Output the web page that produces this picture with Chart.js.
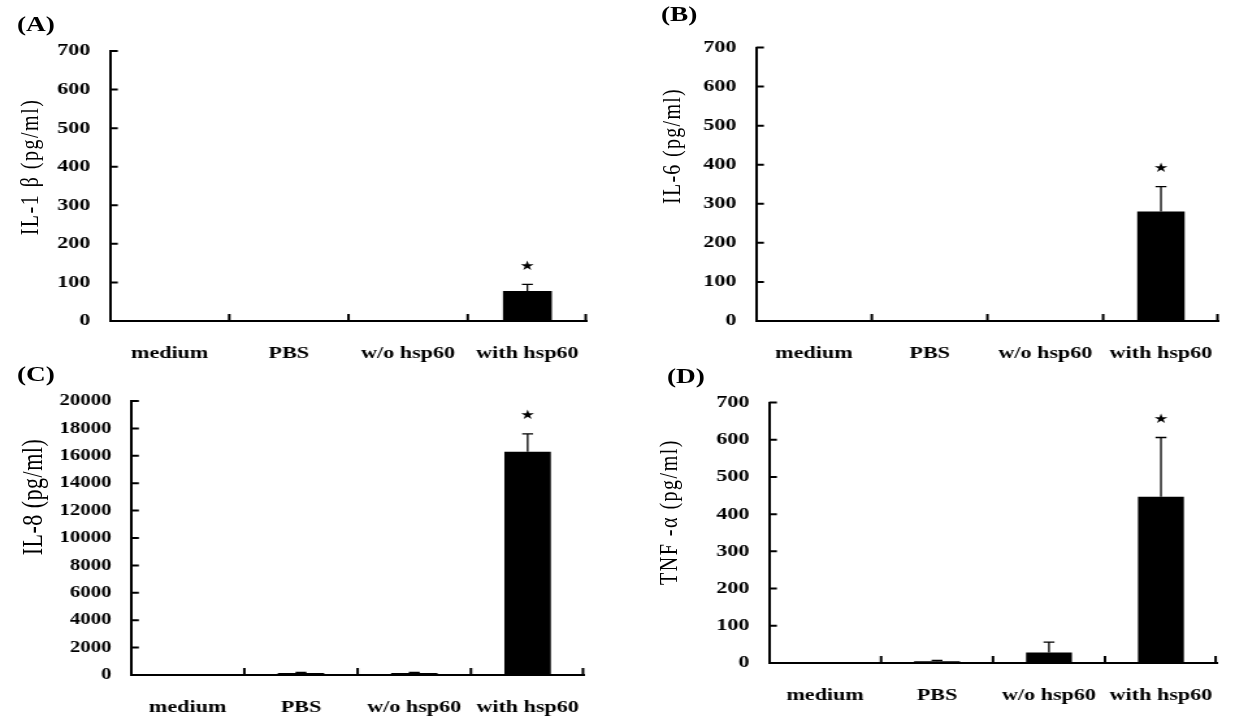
<!DOCTYPE html>
<html>
<head>
<meta charset="utf-8">
<script src="https://cdn.jsdelivr.net/npm/chart.js@4.4.1/dist/chart.umd.min.js"></script>
<style>
  html, body { margin: 0; padding: 0; background: #fff; }
  body { width: 1241px; height: 722px; position: relative; overflow: hidden; }
  #root { position: absolute; left: 0; top: 0; width: 955px; height: 722px; transform-origin: 0 0; font-family: "Liberation Serif", serif; color: #000; }
  canvas { position: absolute; }
  .tag { position: absolute; font-weight: bold; font-size: 21px; line-height: 20px; white-space: nowrap; }
  .ytitle { position: absolute; font-size: 20px; line-height: 20px; white-space: nowrap; transform: translate(-50%, -50%) rotate(-90deg); }
</style>
</head>
<body>
<div id="root"></div>
<script>
// the source figure is stretched horizontally, so everything is drawn narrow and scaled
const S = 1.3;

const categories = ['medium', 'PBS', 'w/o hsp60', 'with hsp60'];
const il1bMean = [0, 0, 0, 78];
const il1bErr = [0, 0, 0, 17];
const il6Mean = [0, 0, 0, 280];
const il6Err = [0, 0, 0, 64];
const il8Mean = [0, 150, 150, 16300];
const il8Err = [0, 40, 40, 1300];
const tnfMean = [0, 5, 28, 447];
const tnfErr = [0, 2, 28, 159];
const significant = [false, false, false, true];
const pgTicks = [0, 100, 200, 300, 400, 500, 600, 700];
const il8Ticks = [0, 2000, 4000, 6000, 8000, 10000, 12000, 14000, 16000, 18000, 20000];

const panels = [
  { tag: '(A)', tagPos: [17, 24], title: 'IL-1 β (pg/ml)', titlePos: [28, 167], titleSize: 20, spacing: 1.5,
    means: il1bMean, errs: il1bErr, ticks: pgTicks, tickSize: 17,
    box: [0, 0, 610, 370], axisX: 110, rightX: 590, topY: 51, zeroY: 321 },
  { tag: '(B)', tagPos: [661, 14], title: 'IL-6 (pg/ml)', titlePos: [671, 146], titleSize: 20, spacing: 1.3,
    means: il6Mean, errs: il6Err, ticks: pgTicks, tickSize: 17,
    box: [620, 0, 621, 370], axisX: 756, rightX: 1236, topY: 47.5, zeroY: 321 },
  { tag: '(C)', tagPos: [17, 374], title: 'IL-8 (pg/ml)', titlePos: [32, 497], titleSize: 22, spacing: 0.5,
    means: il8Mean, errs: il8Err, ticks: il8Ticks, tickSize: 16,
    box: [0, 360, 610, 362], axisX: 131, rightX: 592, topY: 401, zeroY: 675 },
  { tag: '(D)', tagPos: [667, 376], title: 'TNF -α (pg/ml)', titlePos: [668, 512], titleSize: 20, spacing: 1.5,
    means: tnfMean, errs: tnfErr, ticks: pgTicks, tickSize: 17,
    box: [620, 360, 621, 362], axisX: 769, rightX: 1236, topY: 402.5, zeroY: 663 }
];

const root = document.getElementById('root');
root.style.transform = 'scaleX(' + S + ')';

Chart.defaults.font.family = '"Liberation Serif", serif';
Chart.defaults.color = '#000';

// inward axis ticks, error bars and significance stars
const decorations = {
  id: 'decorations',
  afterDatasetsDraw(chart) {
    const { ctx, chartArea, scales: { x, y } } = chart;
    const ds = chart.data.datasets[0];
    const meta = chart.getDatasetMeta(0);
    ctx.save();
    ctx.strokeStyle = '#000';
    ctx.lineWidth = 2;
    ctx.beginPath();
    y.ticks.forEach(t => {
      const py = y.getPixelForValue(t.value);
      ctx.moveTo(chartArea.left, py);
      ctx.lineTo(chartArea.left + 6, py);
    });
    const n = chart.data.labels.length;
    for (let i = 1; i <= n; i++) {
      const px = i < n ? (x.getPixelForValue(i - 1) + x.getPixelForValue(i)) / 2 : chartArea.right - 1;
      ctx.moveTo(px, chartArea.bottom);
      ctx.lineTo(px, chartArea.bottom - 7);
    }
    ctx.stroke();

    ctx.lineWidth = 1.3;
    ctx.fillStyle = '#000';
    ctx.font = '13px "DejaVu Sans"';
    ctx.textAlign = 'center';
    ctx.textBaseline = 'middle';
    meta.data.forEach((bar, i) => {
      const err = ds.errors[i];
      if (err) {
        const top = y.getPixelForValue(ds.data[i] + err);
        ctx.beginPath();
        ctx.moveTo(bar.x, bar.y);
        ctx.lineTo(bar.x, top);
        ctx.moveTo(bar.x - 4.2, top);
        ctx.lineTo(bar.x + 4.2, top);
        ctx.stroke();
        if (ds.significant[i]) ctx.fillText('★', bar.x, top - 18);
      }
    });
    ctx.restore();
  }
};

panels.forEach(p => {
  const [bl, bt, bw, bh] = p.box;
  const canvas = document.createElement('canvas');
  canvas.width = Math.round(bw / S);
  canvas.height = bh;
  canvas.style.left = (bl / S) + 'px';
  canvas.style.top = bt + 'px';
  root.appendChild(canvas);

  const yWidth = (p.axisX - bl) / S;
  const xHeight = bt + bh - p.zeroY;
  const padRight = canvas.width - (p.rightX - bl) / S;

  new Chart(canvas, {
    type: 'bar',
    data: {
      labels: categories,
      datasets: [{
        data: p.means,
        errors: p.errs,
        significant: significant,
        backgroundColor: '#000',
        borderWidth: 0,
        categoryPercentage: 1,
        barPercentage: 0.41
      }]
    },
    options: {
      responsive: false,
      animation: false,
      layout: { padding: { top: p.topY - bt, right: padRight, left: 0, bottom: 0 } },
      plugins: { legend: { display: false }, tooltip: { enabled: false } },
      scales: {
        x: {
          grid: { display: false, drawTicks: false },
          border: { display: true, color: '#000', width: 2 },
          ticks: { padding: 22, maxRotation: 0, font: { size: 17, weight: 'bold' } },
          afterFit: s => { s.height = xHeight; }
        },
        y: {
          min: 0,
          max: p.ticks[p.ticks.length - 1],
          grid: { display: false, drawTicks: false },
          border: { display: true, color: '#000', width: 2 },
          ticks: { padding: 15, autoSkip: false, font: { size: p.tickSize, weight: 'bold' },
                   callback: v => String(v) },
          afterBuildTicks: s => { s.ticks = p.ticks.map(v => ({ value: v })); },
          afterFit: s => { s.width = yWidth; }
        }
      }
    },
    plugins: [decorations]
  });

  const tag = document.createElement('div');
  tag.className = 'tag';
  tag.textContent = p.tag;
  tag.style.left = (p.tagPos[0] / S) + 'px';
  tag.style.top = (p.tagPos[1] - 10) + 'px';
  root.appendChild(tag);

  const title = document.createElement('div');
  title.className = 'ytitle';
  title.textContent = p.title;
  title.style.fontSize = p.titleSize + 'px';
  title.style.letterSpacing = p.spacing + 'px';
  title.style.left = (p.titlePos[0] / S) + 'px';
  title.style.top = p.titlePos[1] + 'px';
  root.appendChild(title);
});
</script>
</body>
</html>
